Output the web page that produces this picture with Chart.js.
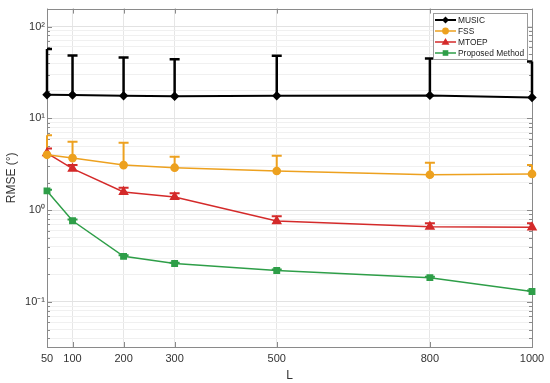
<!DOCTYPE html>
<html>
<head>
<meta charset="utf-8">
<script src="https://cdn.jsdelivr.net/npm/chart.js@4/dist/chart.umd.min.js"></script>
<style>
html,body{margin:0;padding:0;background:#fff;}
#wrap{width:550px;height:383px;}
</style>
</head>
<body>
<div id="wrap"><canvas id="c" width="550" height="383"></canvas></div>
<script>
// ---- data ----
const xValues = [50, 100, 200, 300, 500, 800, 1000];
const xTickLabels = ['50', '100', '200', '300', '500', '800', '1000'];
const yDecades = [0.1, 1, 10, 100];
const yDecadeLabels = ['10⁻¹', '10⁰', '10¹', '10²'];
const seriesNames = ['MUSIC', 'FSS', 'MTOEP', 'Proposed Method'];
const music = [18.1, 18.0, 17.6, 17.4, 17.6, 17.8, 16.9];
const musicUpper = [57, 48.3, 46, 44, 48, 45, 41.6];
const fss = [4.01, 3.69, 3.10, 2.90, 2.67, 2.43, 2.48];
const fssUpper = [6.56, 5.55, 5.41, 3.81, 3.91, 3.28, 3.10];
const mtoep = [4.18, 2.83, 1.58, 1.39, 0.76, 0.66, 0.65];
const mtoepUpper = [4.70, 3.10, 1.75, 1.53, 0.86, 0.72, 0.72];
const proposed = [1.62, 0.766, 0.314, 0.262, 0.22, 0.184, 0.130];
const proposedUpper = [1.67, 0.79, 0.322, 0.268, 0.225, 0.188, 0.133];
const yMin = 0.0323, yMax = 157;

const FONT = "'Liberation Sans', Arial, sans-serif";
const colors = ['#000000', '#EDA11F', '#D42A2A', '#2E9E48'];

function pts(arr) { return xValues.map((x, i) => ({x: x, y: arr[i]})); }

// minor/major log ticks
const yTickVals = [];
[0.01, 0.1, 1, 10, 100].forEach(d => {
  for (let k = 1; k <= 9; k++) {
    const v = Number((k * d).toPrecision(3));
    if (v >= yMin && v <= yMax) yTickVals.push(v);
  }
});
function isDecade(v) { return yDecades.some(d => Math.abs(d - v) / d < 1e-6); }

const framePlugin = {
  id: 'frame',
  beforeDatasetsDraw(chart) {
    const ctx = chart.ctx, ca = chart.chartArea;
    const xs = chart.scales.x, ys = chart.scales.y;
    ctx.save();
    ctx.strokeStyle = '#8a8a8a';
    ctx.lineWidth = 1;
    ctx.beginPath();
    xValues.forEach(v => {
      const px = Math.round(xs.getPixelForValue(v)) + 0.5;
      ctx.moveTo(px, ca.bottom); ctx.lineTo(px, ca.bottom - 5);
      ctx.moveTo(px, ca.top); ctx.lineTo(px, ca.top + 5);
    });
    yTickVals.forEach(v => {
      const py = Math.round(ys.getPixelForValue(v)) + 0.5;
      const len = isDecade(v) ? 5 : 3;
      ctx.moveTo(ca.left, py); ctx.lineTo(ca.left + len, py);
      ctx.moveTo(ca.right, py); ctx.lineTo(ca.right - len, py);
    });
    ctx.stroke();
    ctx.strokeRect(Math.round(ca.left) + 0.5, Math.round(ca.top) + 0.5,
                   Math.round(ca.right - ca.left), Math.round(ca.bottom - ca.top));
    ctx.restore();
  }
};

const errorBarPlugin = {
  id: 'errbars',
  beforeDatasetsDraw(chart) {
    const ctx = chart.ctx, ca = chart.chartArea;
    const xs = chart.scales.x, ys = chart.scales.y;
    chart.data.datasets.forEach(ds => {
      ctx.strokeStyle = ds.borderColor;
      ctx.lineWidth = ds.errWidth;
      ds.upper.forEach((u, i) => {
        const px = xs.getPixelForValue(xValues[i]);
        const py = ys.getPixelForValue(ds.data[i].y);
        const pu = ys.getPixelForValue(u);
        ctx.beginPath();
        ctx.moveTo(px, py); ctx.lineTo(px, pu);
        ctx.stroke();
        ctx.save();
        ctx.beginPath();
        ctx.rect(ca.left, ca.top, ca.right - ca.left, ca.bottom - ca.top);
        ctx.clip();
        ctx.beginPath();
        ctx.moveTo(px - 5, pu); ctx.lineTo(px + 5, pu);
        ctx.stroke();
        ctx.restore();
      });
    });
  }
};

const legendPlugin = {
  id: 'boxlegend',
  afterDraw(chart) {
    const ctx = chart.ctx;
    ctx.save();
    const lx = 433, ly = 13, lw = 94, lh = 46;
    ctx.fillStyle = '#ffffff';
    ctx.fillRect(lx, ly, lw, lh);
    ctx.strokeStyle = '#9a9a9a';
    ctx.lineWidth = 1;
    ctx.strokeRect(lx + 0.5, ly + 0.5, lw, lh);
    ctx.font = '8.4px ' + FONT;
    ctx.textBaseline = 'middle';
    chart.data.datasets.forEach((ds, i) => {
      const cy = ly + 7 + i * 11;
      ctx.strokeStyle = ds.borderColor;
      ctx.lineWidth = ds.borderWidth;
      ctx.beginPath(); ctx.moveTo(lx + 2, cy); ctx.lineTo(lx + 23, cy); ctx.stroke();
      ctx.fillStyle = ds.borderColor;
      const mx = lx + 12.5;
      ctx.beginPath();
      if (ds.pointStyle === 'rectRot') {
        ctx.moveTo(mx, cy - 3.5); ctx.lineTo(mx + 3.5, cy); ctx.lineTo(mx, cy + 3.5); ctx.lineTo(mx - 3.5, cy);
      } else if (ds.pointStyle === 'circle') {
        ctx.arc(mx, cy, 3.4, 0, Math.PI * 2);
      } else if (ds.pointStyle === 'triangle') {
        ctx.moveTo(mx, cy - 4); ctx.lineTo(mx + 4, cy + 2.8); ctx.lineTo(mx - 4, cy + 2.8);
      } else {
        ctx.rect(mx - 2.8, cy - 2.8, 5.6, 5.6);
      }
      ctx.closePath(); ctx.fill();
      ctx.fillStyle = '#222';
      ctx.textAlign = 'left';
      ctx.fillText(ds.label, lx + 25, cy + 0.5);
    });
    ctx.restore();
  }
};

const datasets = [
  {label: seriesNames[0], data: pts(music), upper: musicUpper, borderColor: colors[0], backgroundColor: colors[0],
   borderWidth: 2, errWidth: 2.5, pointStyle: 'rectRot', pointRadius: 3.3},
  {label: seriesNames[1], data: pts(fss), upper: fssUpper, borderColor: colors[1], backgroundColor: colors[1],
   borderWidth: 1.5, errWidth: 2, pointStyle: 'circle', pointRadius: 3.6},
  {label: seriesNames[2], data: pts(mtoep), upper: mtoepUpper, borderColor: colors[2], backgroundColor: colors[2],
   borderWidth: 1.5, errWidth: 2, pointStyle: 'triangle', pointRadius: 4.6},
  {label: seriesNames[3], data: pts(proposed), upper: proposedUpper, borderColor: colors[3], backgroundColor: colors[3],
   borderWidth: 1.5, errWidth: 2, pointStyle: 'rect', pointRadius: 3.8}
];

new Chart(document.getElementById('c'), {
  type: 'line',
  data: {datasets: datasets},
  options: {
    responsive: false,
    animation: false,
    clip: false,
    layout: {padding: {top: 7, right: 18, left: 0, bottom: 0}},
    plugins: {legend: {display: false}, tooltip: {enabled: false}},
    elements: {line: {tension: 0}, point: {borderWidth: 0, hoverRadius: 4}},
    scales: {
      x: {
        type: 'linear', min: 50, max: 1000,
        afterBuildTicks: s => { s.ticks = xValues.map(v => ({value: v})); },
        afterFit: s => { s.height = 36; },
        ticks: {
          autoSkip: false, maxRotation: 0, padding: 5, color: '#333',
          font: {family: FONT, size: 11},
          callback: v => { const i = xValues.indexOf(v); return i >= 0 ? xTickLabels[i] : ''; }
        },
        grid: {color: '#e6e6e6', drawTicks: false},
        border: {display: false},
        title: {display: true, text: 'L', color: '#333', font: {family: FONT, size: 12}, padding: {top: 0, bottom: 0}}
      },
      y: {
        type: 'logarithmic', min: yMin, max: yMax,
        afterBuildTicks: s => { s.ticks = yTickVals.map(v => ({value: v, major: isDecade(v)})); },
        afterFit: s => { s.width = 47; },
        ticks: {
          autoSkip: false, padding: 2, color: '#333',
          font: {family: FONT, size: 11},
          callback: v => { const i = yDecades.findIndex(d => Math.abs(d - v) / d < 1e-6); return i >= 0 ? yDecadeLabels[i] : ''; }
        },
        grid: {
          drawTicks: false,
          color: c => (c.tick && isDecade(c.tick.value)) ? '#e2e2e2' : '#f0f0f0'
        },
        border: {display: false},
        title: {display: true, text: 'RMSE (°)', color: '#333', font: {family: FONT, size: 12}, padding: {top: 4, bottom: 0}}
      }
    }
  },
  plugins: [framePlugin, errorBarPlugin, legendPlugin]
});
</script>
</body>
</html>
